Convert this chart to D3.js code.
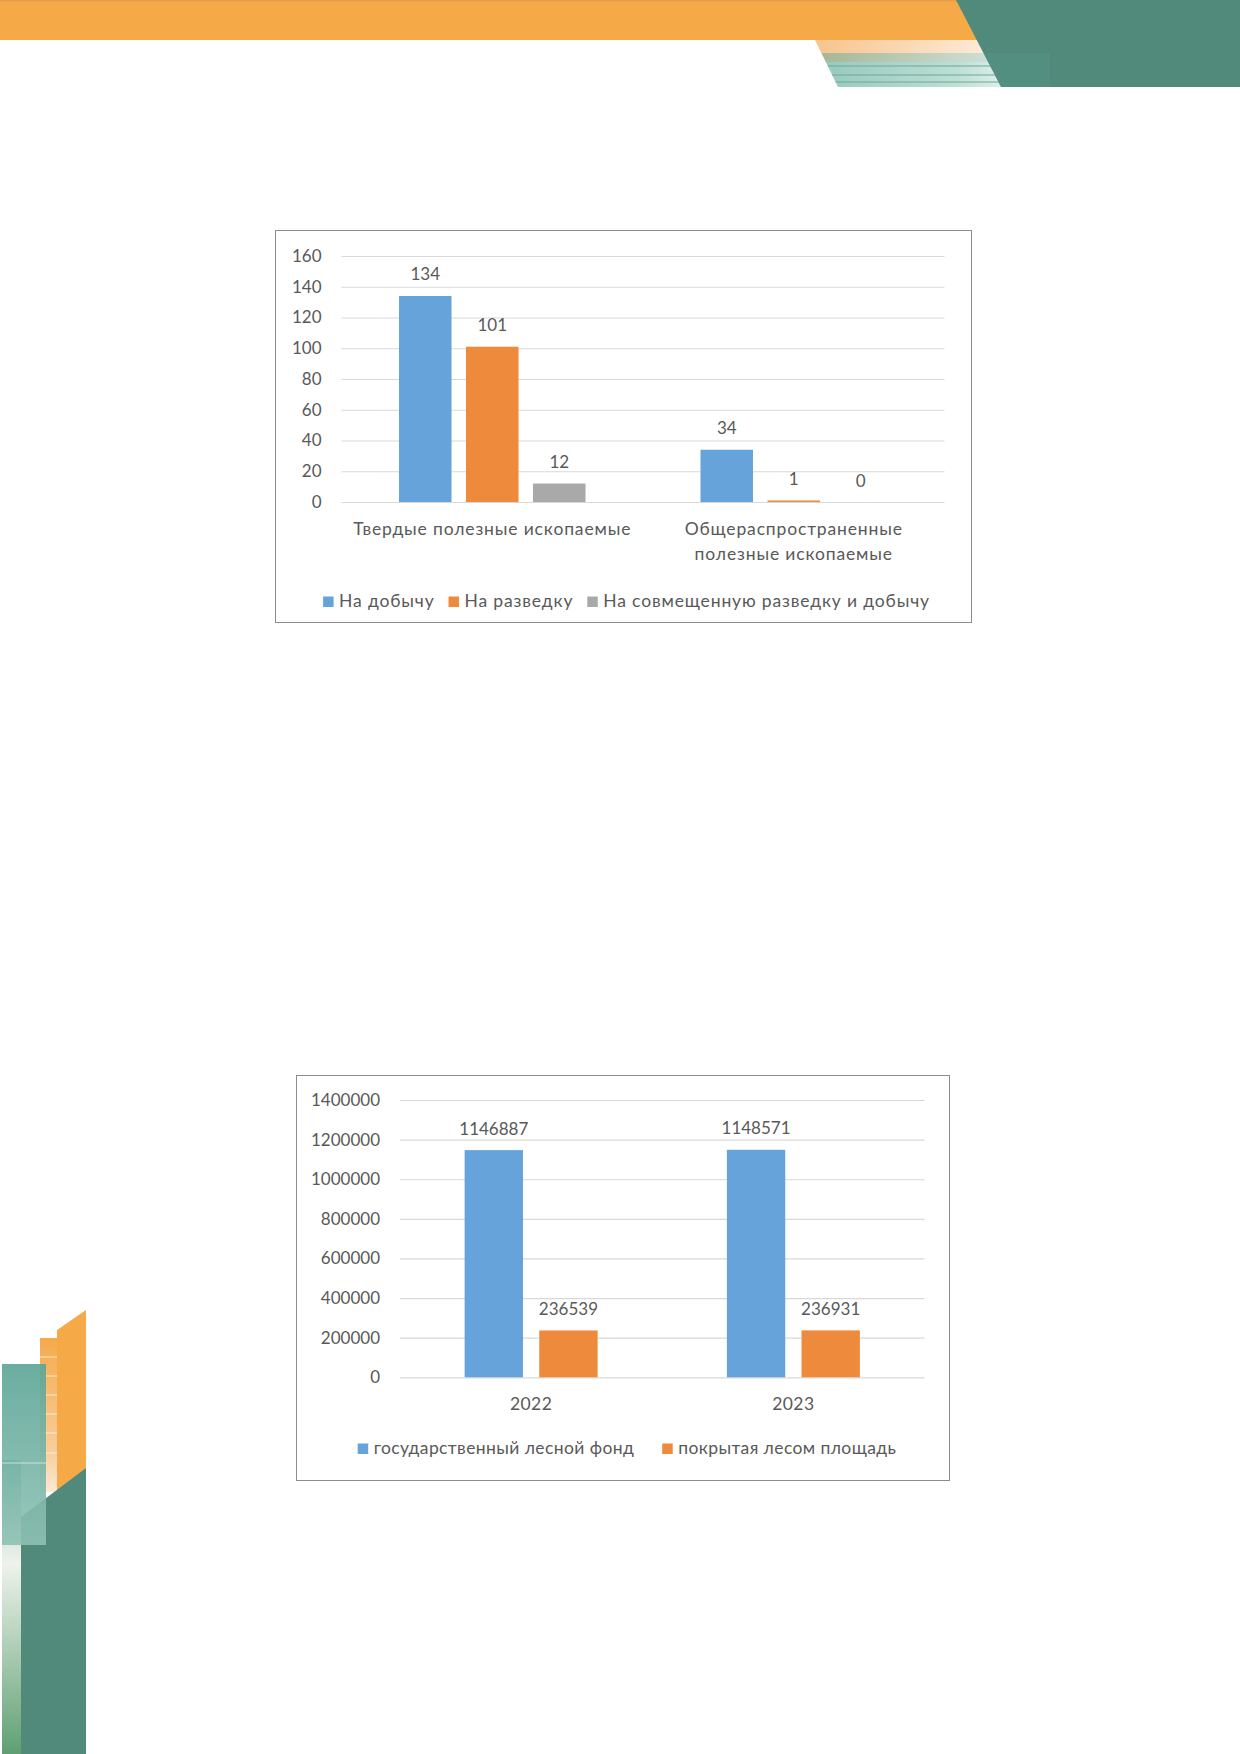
<!DOCTYPE html>
<html>
<head>
<meta charset="utf-8">
<script src="https://cdn.jsdelivr.net/npm/d3@7"></script>
<style>
  body { margin: 0; background: #fff; }
  svg { display: block; }
</style>
</head>
<body>
<div id="wrapper"></div>
<script>
// 1. Data
const mineralCategories = ["Твердые полезные ископаемые", "Общераспространенные полезные ископаемые"]
const mineralTickLines = [["Твердые полезные ископаемые"], ["Общераспространенные", "полезные ископаемые"]]
const mineralSeries = ["На добычу", "На разведку", "На совмещенную разведку и добычу"]
const licencesProduction = [134, 34]
const licencesExploration = [101, 1]
const licencesCombined = [12, 0]
const mineralTicks = [0, 20, 40, 60, 80, 100, 120, 140, 160]

const forestYears = ["2022", "2023"]
const forestSeries = ["государственный лесной фонд", "покрытая лесом площадь"]
const forestFund = [1146887, 1148571]
const forestCovered = [236539, 236931]
const forestTicks = [0, 200000, 400000, 600000, 800000, 1000000, 1200000, 1400000]

const blue = "#66a3da"
const orange = "#ee8a3b"
const gray = "#a9a9a9"
const textColor = "#595959"
const fontFamily = "Lato, 'Open Sans', sans-serif"

// 2. Canvas
const svg = d3.select("#wrapper")
  .append("svg")
  .attr("width", 1240)
  .attr("height", 1754)
  .style("font-family", fontFamily)

const defs = svg.append("defs")
const gradient = (id, stops, x2 = 1, y2 = 0) => {
  const g = defs.append("linearGradient").attr("id", id)
    .attr("x1", 0).attr("y1", 0).attr("x2", x2).attr("y2", y2)
  stops.forEach(([o, c]) => g.append("stop").attr("offset", o).attr("stop-color", c))
}
gradient("peach", [[0, "#f7c48c"], [1, "#fdebd9"]])
gradient("sage", [[0, "#a7b797"], [1, "#cfe2db"]])
gradient("teal", [[0, "#98cabd"], [0.7, "#bcded5"], [1, "#e2f1ec"]])
gradient("colTeal", [[0, "#5aa596"], [1, "#8fc1b4"]], 0, 1)
gradient("colOrange", [[0, "#f5aa4c"], [0.75, "#f9cf9d"], [1, "#fde9d4"]], 0, 1)
gradient("colLight", [[0, "#8cbcae"], [0.35, "#eef3ec"], [1, "#5f9f72"]], 0, 1)

// 3. Page decorations
const deco = svg.append("g")
const poly = (pts, fill, op = 1) => deco.append("polygon")
  .attr("points", pts.map(p => p.join(",")).join(" ")).attr("fill", fill).attr("opacity", op)

// header
poly([[0, 0], [990, 0], [990, 40], [0, 40]], "#f6aa47")
deco.append("rect").attr("x", 0).attr("y", 0).attr("width", 960).attr("height", 1.5).attr("fill", "#e39f4f")
const leftEdge = y => 815 + (y - 40) * 23 / 47
poly([[leftEdge(40), 40], [990, 40], [990, 53], [leftEdge(53), 53]], "url(#peach)")
poly([[leftEdge(53), 53], [1000, 53], [1000, 62], [leftEdge(62), 62]], "url(#sage)")
poly([[leftEdge(62), 62], [1010, 62], [1010, 87], [leftEdge(87), 87]], "url(#teal)")
;[66, 75, 82].forEach(y => deco.append("line")
  .attr("x1", leftEdge(y)).attr("x2", 1010).attr("y1", y).attr("y2", y)
  .attr("stroke", "#6ea797").attr("stroke-width", 1))
poly([[956, 0], [1240, 0], [1240, 87], [1001, 87]], "#518a7b")
poly([[985, 53], [1050, 53], [1050, 87], [1001, 87]], "#5a9a8a", 0.3)

// bottom-left column
poly([[57, 1330], [86, 1310], [86, 1470], [57, 1492]], "#f6aa47")
poly([[40, 1338], [57, 1338], [57, 1492], [40, 1492]], "url(#colOrange)")
;[1357, 1376, 1395, 1414, 1433, 1453].forEach(y => deco.append("line")
  .attr("x1", 40).attr("x2", 57).attr("y1", y).attr("y2", y)
  .attr("stroke", "#fff").attr("stroke-opacity", 0.7))
poly([[2, 1460], [21, 1460], [21, 1754], [2, 1754]], "url(#colLight)")
poly([[21, 1517], [86, 1468], [86, 1754], [21, 1754]], "#518a7b")
poly([[2, 1364], [46, 1364], [46, 1545], [2, 1545]], "url(#colTeal)", 0.9)
deco.append("line").attr("x1", 2).attr("x2", 46).attr("y1", 1463).attr("y2", 1463)
  .attr("stroke", "#fff").attr("stroke-opacity", 0.6)

// 4. Clustered bar chart
function drawClustered(cfg) {
  const g = svg.append("g")

  g.append("rect")
    .attr("x", cfg.box.x + 0.5).attr("y", cfg.box.y + 0.5)
    .attr("width", cfg.box.w).attr("height", cfg.box.h)
    .attr("fill", "#fff").attr("stroke", "#8c8c8c").attr("stroke-width", 1)

  const xScale = d3.scaleBand()
    .domain(cfg.categories)
    .range([cfg.plot.left, cfg.plot.right])

  const seriesScale = d3.scaleBand()
    .domain(cfg.series)
    .range([0, xScale.bandwidth()])
    .paddingInner(cfg.innerPad)
    .paddingOuter(cfg.outerPad)

  const yScale = d3.scaleLinear()
    .domain([0, d3.max(cfg.ticks)])
    .range([cfg.plot.bottom, cfg.plot.top])

  // gridlines + y labels
  const yAxis = d3.axisLeft(yScale)
    .tickValues(cfg.ticks)
    .tickSize(-(cfg.plot.right - cfg.plot.left))
    .tickPadding(20)
    .tickFormat(d3.format("d"))
  const axisG = g.append("g")
    .attr("transform", `translate(${cfg.plot.left},0)`)
    .call(yAxis)
  axisG.select(".domain").remove()
  axisG.selectAll(".tick line").attr("stroke", "#d9d9d9").attr("stroke-width", 1.2)
  axisG.selectAll(".tick text")
    .attr("fill", textColor).style("font-size", "17px").style("font-family", fontFamily)

  // bars
  const rows = cfg.categories.flatMap((c, i) =>
    cfg.series.map((s, j) => ({ category: c, series: s, value: cfg.values[j][i], color: cfg.colors[j] })))

  g.selectAll(".bar")
    .data(rows)
    .join("rect")
    .attr("class", "bar")
    .attr("x", d => xScale(d.category) + seriesScale(d.series))
    .attr("y", d => yScale(d.value))
    .attr("width", seriesScale.bandwidth())
    .attr("height", d => yScale(0) - yScale(d.value))
    .attr("fill", d => d.color)

  g.selectAll(".value")
    .data(rows)
    .join("text")
    .attr("class", "value")
    .attr("x", d => xScale(d.category) + seriesScale(d.series) + seriesScale.bandwidth() / 2)
    .attr("y", d => yScale(d.value) - 15.5)
    .attr("text-anchor", "middle")
    .attr("fill", textColor)
    .style("font-size", "17px")
    .text(d => d.value)

  // category labels
  cfg.categories.forEach((c, i) => {
    const t = g.append("text")
      .attr("x", xScale(c) + xScale.bandwidth() / 2)
      .attr("y", cfg.plot.bottom + 33)
      .attr("text-anchor", "middle")
      .attr("fill", textColor)
      .style("font-size", "17.5px")
      .style("letter-spacing", `${cfg.spacing}px`)
    cfg.tickLines[i].forEach((line, k) => t.append("tspan")
      .attr("x", xScale(c) + xScale.bandwidth() / 2)
      .attr("dy", k === 0 ? 0 : 25)
      .text(line))
  })

  // legend
  const legend = g.append("g")
  let x = 0
  cfg.series.forEach((s, j) => {
    legend.append("rect")
      .attr("x", x).attr("y", -10).attr("width", 10.5).attr("height", 10.5)
      .attr("fill", cfg.colors[j])
    const t = legend.append("text")
      .attr("x", x + 16).attr("y", 0)
      .attr("fill", textColor)
      .style("font-size", "17.5px")
      .style("letter-spacing", `${cfg.spacing}px`)
      .text(s)
    x += 16 + t.node().getComputedTextLength() + cfg.legendGap
  })
  const legendWidth = x - cfg.legendGap
  legend.attr("transform",
    `translate(${cfg.legendCenter - legendWidth / 2},${cfg.legendY})`)
}

drawClustered({
  box: { x: 275, y: 230, w: 696, h: 392 },
  plot: { left: 341.5, right: 944.5, top: 256, bottom: 502 },
  categories: mineralCategories,
  tickLines: mineralTickLines,
  series: mineralSeries,
  values: [licencesProduction, licencesExploration, licencesCombined],
  colors: [blue, orange, gray],
  ticks: mineralTicks,
  innerPad: 0.216,
  outerPad: 0.858,
  spacing: 0.85,
  legendGap: 14,
  legendCenter: 626.5,
  legendY: 606.5,
})

drawClustered({
  box: { x: 296, y: 1075, w: 653, h: 405 },
  plot: { left: 400, right: 924.5, top: 1100, bottom: 1377.3 },
  categories: forestYears,
  tickLines: forestYears.map(d => [d]),
  series: forestSeries,
  values: [forestFund, forestCovered],
  colors: [blue, orange],
  ticks: forestTicks,
  innerPad: 0.218,
  outerPad: 0.866,
  spacing: 0.4,
  legendGap: 28,
  legendCenter: 627,
  legendY: 1453.5,
})
</script>
</body>
</html>
